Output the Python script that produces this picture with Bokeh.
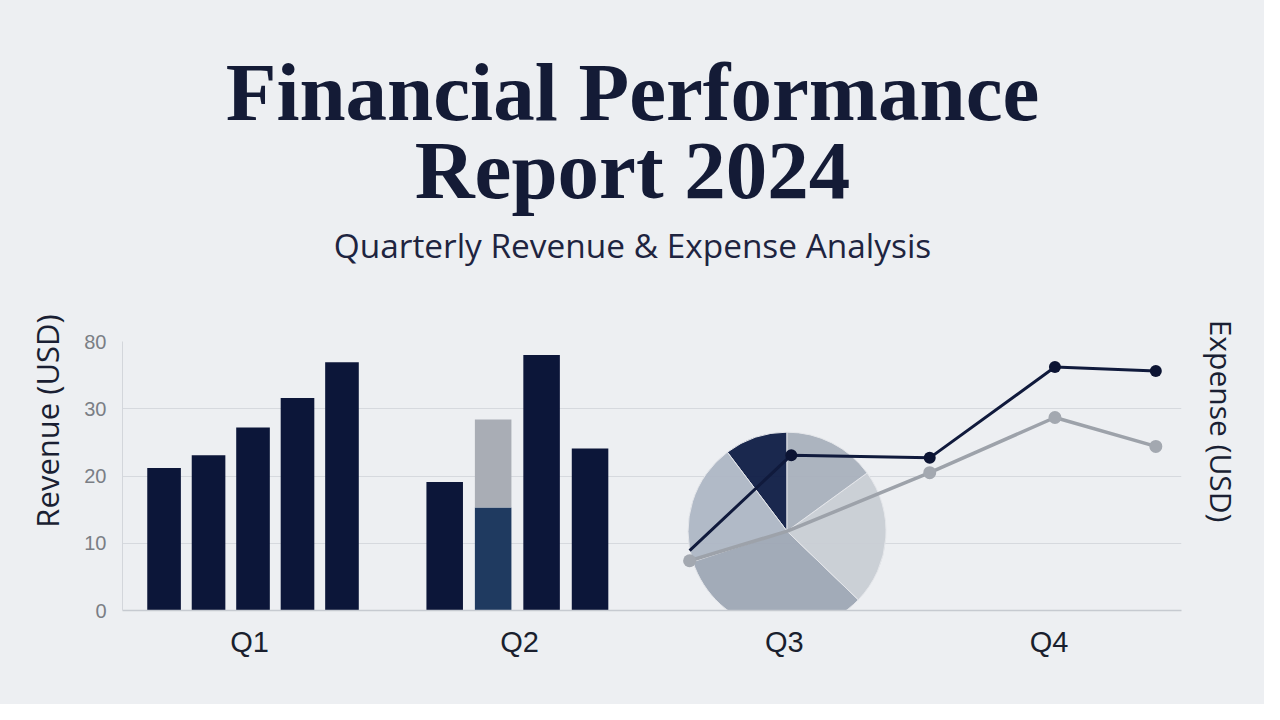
import math
from bokeh.plotting import figure
from bokeh.layouts import column, row
from bokeh.models import FixedTicker, Range1d
from bokeh.core.properties import value
from bokeh.embed import file_html
from bokeh.resources import INLINE

# ---------------- data ----------------
title_lines = ["Financial Performance", "Report 2024"]
subtitle = "Quarterly Revenue & Expense Analysis"
y_label = "Revenue (USD)"
y2_label = "Expense (USD)"

quarters = ["Q1", "Q2", "Q3", "Q4"]
quarter_pos = [0.48, 1.5, 2.5, 3.5]

y_ticks = [0, 10, 20, 30, 40]
y_tick_labels = ["0", "10", "20", "30", "80"]

q1_revenue = [21.2, 23.1, 27.2, 31.6, 36.9]
q2_revenue = [19.1, 15.3, 38.0, 24.1]
q2_extra = [0.0, 13.1, 0.0, 0.0]

pie_shares = [10.3, 19.7, 32.8, 22.2, 15.0]
pie_colors = ["#0f1c44", "#aeb6c4", "#9ea6b4", "#c9cdd4", "#a9b0bc"]
pie_center = (2.51, 11.8)

revenue_line_x = [2.142, 2.526, 3.049, 3.522, 3.903]
revenue_line_y = [8.9, 23.1, 22.7, 36.2, 35.6]
expense_line_x = [2.142, 2.511, 3.049, 3.522, 3.903]
expense_line_y = [7.4, 11.8, 20.5, 28.7, 24.4]

# ---------------- styling ----------------
BG = "#edeff2"
NAVY = "#0c1639"
TEXT = "#141b36"
W, H = 1264, 704
HEAD_H = 300
LEFT_W, RIGHT_W = 75, 74
MID_W = W - LEFT_W - RIGHT_W
BODY_H = H - HEAD_H
MB_L, MB_R = 47, 9            # main frame borders inside the middle column
BG_STYLE = {"background-color": BG}


def blank(width, height, x0=0.0, x1=None, mb_l=0, mb_r=0):
    f = figure(width=width, height=height, output_backend="svg", toolbar_location=None,
               x_axis_location=None, y_axis_location=None,
               min_border_left=mb_l, min_border_right=mb_r,
               min_border_top=0, min_border_bottom=0,
               x_range=Range1d(x0, width if x1 is None else x1),
               y_range=Range1d(height, 0),
               background_fill_color=None, border_fill_color=BG,
               styles=BG_STYLE)
    f.outline_line_color = None
    f.xgrid.visible = False
    f.ygrid.visible = False
    return f


# ---------------- header (title + subtitle), x in page-figure coordinates ----------------
fl = LEFT_W + MB_L
fr = LEFT_W + MID_W - MB_R
head = blank(MID_W, HEAD_H, x0=fl, x1=fr, mb_l=MB_L, mb_r=MB_R)
cx = W / 2
head.text(x=[cx, cx], y=[91, 169], text=title_lines,
          text_font=value("Liberation Serif"), text_font_size="83px",
          text_font_style="bold", text_color=TEXT,
          text_align="center", text_baseline="alphabetic")
head.text(x=[cx], y=[244], text=[subtitle],
          text_font=value("Open Sans"), text_font_size="33.4px",
          text_color="#1e2440", text_align="center", text_baseline="alphabetic")

# ---------------- side labels (full height) ----------------
left = blank(LEFT_W, H)
left.text(x=[46.5], y=[420.5], text=[y_label], angle=math.pi / 2,
          text_font=value("Open Sans"), text_font_size="31px",
          text_color="#1a1f33", text_align="center", text_baseline="middle")
right = blank(RIGHT_W, H)
right.text(x=[30.5], y=[420.5], text=[y2_label], angle=-math.pi / 2,
           text_font=value("Open Sans"), text_font_size="30px",
           text_color="#1a1f33", text_align="center", text_baseline="middle")

# ---------------- main chart ----------------
p = figure(width=MID_W, height=BODY_H, output_backend="svg",
           toolbar_location=None, x_range=Range1d(0, 4), y_range=Range1d(0, 40),
           min_border_left=MB_L, min_border_right=MB_R,
           min_border_top=41, min_border_bottom=94,
           background_fill_color=BG, border_fill_color=BG, styles=BG_STYLE)
p.outline_line_color = None
p.xgrid.visible = False
p.ygrid.grid_line_color = "#d6d9de"
p.ygrid.grid_line_width = 1.2

p.yaxis.ticker = FixedTicker(ticks=y_ticks)
p.yaxis.major_label_overrides = {t: l for t, l in zip(y_ticks, y_tick_labels)}
p.yaxis.major_tick_line_color = None
p.yaxis.minor_tick_line_color = None
p.yaxis.axis_line_color = "#d3d6db"
p.yaxis.major_label_text_font = "Liberation Sans"
p.yaxis.major_label_text_font_size = "20px"
p.yaxis.major_label_text_color = "#7a7e85"
p.yaxis.major_label_standoff = 10

p.xaxis.ticker = FixedTicker(ticks=quarter_pos)
p.xaxis.major_label_overrides = {t: q for t, q in zip(quarter_pos, quarters)}
p.xaxis.major_tick_line_color = None
p.xaxis.minor_tick_line_color = None
p.xaxis.axis_line_color = "#c6cad0"
p.xaxis.axis_line_width = 1.5
p.xaxis.major_label_text_font = "Liberation Sans"
p.xaxis.major_label_text_font_size = "29px"
p.xaxis.major_label_text_color = "#1a1f2e"
p.xaxis.major_label_standoff = 9


def group_x(center, spacing, n):
    return [center + spacing * (i - (n - 1) / 2) for i in range(n)]


q1_x = group_x(0.493, 0.168, len(q1_revenue))
p.vbar(x=q1_x, top=q1_revenue, bottom=0, width=0.127,
       fill_color=NAVY, line_color=None)

q2_x = group_x(1.4915, 0.183, len(q2_revenue))
q2_colors = [NAVY, "#1f3a60", NAVY, NAVY]
p.vbar(x=q2_x, top=q2_revenue, bottom=0, width=0.138,
       fill_color=q2_colors, line_color=None)
stk = [i for i, e in enumerate(q2_extra) if e > 0]
p.vbar(x=[q2_x[i] for i in stk],
       bottom=[q2_revenue[i] for i in stk],
       top=[q2_revenue[i] + q2_extra[i] for i in stk],
       width=0.138, fill_color="#a9adb5", line_color=None)

starts, ends = [], []
a = math.pi / 2
for s in pie_shares:
    starts.append(a)
    a += s / sum(pie_shares) * 2 * math.pi
    ends.append(a)
p.wedge(x=pie_center[0], y=pie_center[1], radius=99, radius_units="screen",
        start_angle=starts, end_angle=ends, fill_color=pie_colors,
        fill_alpha=0.95, line_color="#e4e6ea", line_width=1)

p.line(expense_line_x, expense_line_y, line_color="#9da2aa", line_width=3.5)
p.line(revenue_line_x, revenue_line_y, line_color="#101a3c", line_width=3)
ei = [0, 2, 3, 4]
p.scatter([expense_line_x[i] for i in ei], [expense_line_y[i] for i in ei],
          size=13, fill_color="#a3a8b0", line_color=None)
ri = [1, 2, 3, 4]
p.scatter([revenue_line_x[i] for i in ri], [revenue_line_y[i] for i in ri],
          size=12, fill_color="#0c1433", line_color=None)

layout = row(left, column(head, p, spacing=0, styles=BG_STYLE), right,
             spacing=0, styles=BG_STYLE)
open("out.html", "w").write(file_html(layout, INLINE))
